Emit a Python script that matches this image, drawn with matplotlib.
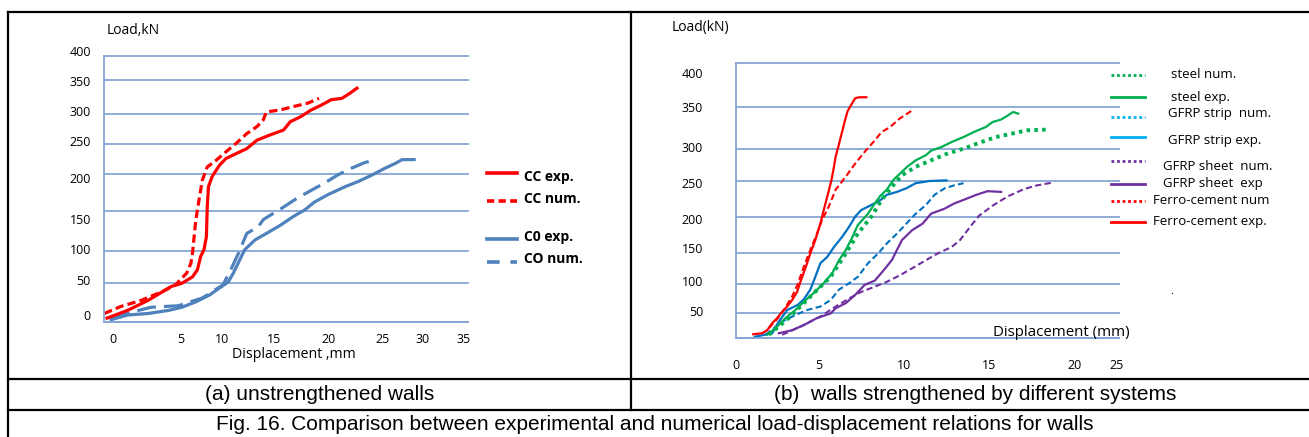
import numpy as np
import matplotlib
matplotlib.use("Agg")
import matplotlib.pyplot as plt
from matplotlib.lines import Line2D
from matplotlib.transforms import ScaledTranslation

# ---- (a) unstrengthened walls ----
a_x_ticks = [0, 5, 10, 15, 20, 25, 30, 35]
a_y_ticks = [0, 50, 100, 150, 200, 250, 300, 350, 400]

cc_exp_disp = [-0.4, 1.1, 2.6, 4.3, 5.1, 6.4, 7.0, 7.4, 7.8, 8.1, 8.2, 8.35, 8.8, 9.7, 10.4, 11.4,
               12.4, 13.4, 14.7, 15.9, 16.5, 17.4, 18.4, 19.3, 20.2, 21.2, 21.9, 22.6]
cc_exp_load = [5, 15, 28, 46, 50, 60, 71, 92, 102, 118, 155, 183, 197, 215, 226, 234,
               242, 256, 265, 273, 287, 295, 306, 313, 321, 323, 330, 338]
cc_num_disp = [-0.6, 0.6, 2.1, 3.6, 4.6, 5.7, 6.2, 6.4, 6.8, 7.2, 7.6, 8.2, 9.3, 10.4, 11.4, 12.4,
               13.4, 14.0, 14.3, 15.6, 16.8, 18.1, 19.1]
cc_num_load = [11, 20, 28, 39, 48, 66, 81, 97, 138, 165, 192, 212, 223, 237, 251, 267,
               279, 290, 303, 306, 311, 316, 323]
c0_exp_disp = [-0.1, 1.1, 2.6, 4.1, 5.1, 6.8, 8.5, 9.7, 10.6, 11.1, 11.7, 12.2, 13.2, 14.3, 15.6,
               16.8, 17.8, 18.7, 19.9, 21.5, 22.7, 24.0, 25.3, 26.6, 27.4, 28.9]
c0_exp_load = [3, 9, 11, 15, 19, 26, 35, 44, 52, 66, 86, 102, 114, 122, 132,
               143, 151, 162, 172, 183, 190, 199, 210, 218, 224, 224]
c0_num_disp = [-0.1, 1.9, 2.8, 4.8, 7.6, 10.1, 10.9, 11.6, 12.4, 13.5, 14.0, 15.0, 15.9, 17.1,
               18.4, 19.6, 20.8, 22.1, 23.3, 24.1]
c0_num_load = [5, 15, 19, 21, 31, 48, 73, 97, 122, 130, 139, 147, 155, 167,
               178, 188, 199, 210, 219, 223]

# ---- (b) strengthened walls ----
b_x_ticks = [0, 5, 10, 15, 20, 25]
b_y_ticks = [0, 50, 100, 150, 200, 250, 300, 350, 400]
b_y_labels = ["", "50", "100", "150", "200", "250", "300", "350", "400"]

ferro_exp_disp = [1.06, 1.6, 1.9, 2.2, 2.5, 2.8, 3.1, 3.4, 3.7, 3.9, 4.2, 4.5, 4.8, 5.1, 5.3, 5.5,
                  5.75, 5.9, 6.0, 6.2, 6.4, 6.55, 6.7, 6.9, 7.15, 7.4, 7.8]
ferro_exp_load = [8, 10, 16, 30, 40, 52, 61, 72, 86, 103, 125, 149, 168, 191, 210, 228,
                  251, 272, 288, 306, 322, 334, 345, 352, 360, 361, 361]
ferro_num_disp = [2.0, 2.5, 2.9, 3.4, 3.75, 4.1, 4.5, 4.9, 5.2, 5.6, 6.0, 6.6, 7.15, 7.7, 8.3,
                  8.7, 9.2, 9.75, 10.5]
ferro_num_load = [20, 38, 55, 78, 100, 127, 154, 177, 196, 215, 238, 257, 277, 295, 310,
                  320, 326, 336, 346]
steel_exp_disp = [1.9, 2.4, 3.0, 3.6, 4.1, 4.7, 5.3, 5.8, 6.2, 6.6, 7.0, 7.3, 7.9, 8.3, 8.6, 9.0,
                  9.4, 9.8, 10.2, 10.7, 11.3, 11.6, 12.2, 12.8, 13.5, 14.1, 14.8, 15.2, 15.7,
                  16.1, 16.4, 16.7]
steel_exp_load = [7, 20, 40, 55, 69, 84, 101, 117, 138, 154, 173, 189, 205, 219, 229, 238,
                  252, 262, 272, 282, 290, 297, 302, 308, 314, 320, 326, 332, 335,
                  340, 344, 342]
steel_num_disp = [2.0, 3.2, 4.5, 5.7, 6.6, 7.3, 8.1, 8.7, 9.3, 9.9, 10.7, 11.6, 12.6, 13.5,
                  14.4, 15.4, 16.3, 17.2, 18.5]
steel_num_load = [7, 40, 78, 111, 149, 177, 201, 224, 242, 259, 272, 282, 293, 300,
                  307, 314, 318, 322, 323]
strip_exp_disp = [1.15, 2.2, 2.6, 3.1, 3.75, 4.1, 4.5, 4.8, 5.1, 5.5, 5.9, 6.4, 6.8, 7.15, 7.5,
                  8.1, 8.65, 9.0, 9.6, 10.15, 10.7, 11.5, 12.5]
strip_exp_load = [3, 10, 33, 55, 64, 73, 90, 111, 133, 143, 158, 173, 187, 201, 210,
                  217, 224, 231, 235, 240, 247, 250, 251]
strip_num_disp = [1.8, 2.8, 3.6, 4.3, 5.1, 5.7, 6.2, 6.8, 7.3, 7.9, 8.5, 9.0, 9.6, 10.15, 10.7,
                  11.3, 11.8, 12.4, 12.95, 13.5]
strip_num_load = [7, 33, 46, 55, 61, 72, 90, 101, 111, 133, 149, 163, 177, 191, 205,
                  217, 231, 240, 244, 247]
sheet_exp_disp = [2.6, 3.4, 4.1, 4.9, 5.7, 6.0, 6.6, 7.15, 7.7, 8.3, 8.8, 9.3, 9.6, 9.9, 10.5,
                  11.1, 11.6, 12.4, 12.95, 13.5, 14.25, 14.9, 15.7]
sheet_exp_load = [10, 16, 26, 40, 49, 58, 67, 81, 98, 105, 121, 138, 154, 168, 182,
                  191, 205, 212, 219, 224, 231, 236, 235]
sheet_num_disp = [2.8, 3.9, 5.1, 6.0, 6.8, 7.5, 8.3, 9.0, 9.8, 10.5, 11.3, 12.0, 12.8, 13.3,
                  13.9, 14.4, 15.2, 16.1, 17.05, 17.8, 18.75]
sheet_num_load = [7, 23, 43, 61, 75, 86, 95, 103, 114, 125, 138, 149, 158, 168,
                  187, 202, 216, 229, 239, 244, 248]

# ---- layout (pixels of the 1309x437 picture) ----
W, H = 1309, 437
A_XTICK_PX = [112.5, 181, 222, 273.6, 329, 382.7, 423, 464]   # labels are typed unevenly
A_YGRID_PX = [322, 283.3, 251.3, 210.7, 174.3, 143.7, 114, 80, 55.7]
A_YLABEL_SHIFT = [-5, -2, -1, 10, 5, -1, -1, 3, -3]           # label drift from its gridline
B_XTICK_PX = [718.3, 805, 894, 983.3, 1072.7, 1116]
B_YGRID_PX = [338.3, 313, 283.7, 252.7, 217.3, 181, 148.7, 107, 62.7]
B_YLABEL_SHIFT = [0, 0, -1, -3.5, 3.5, 3, 0, 2, 12]
GRID_COLOR = "#86a6d6"
CHART_FONT = "Open Sans"
TICK_SIZE = 9


def piecewise(vals, pos):
    """uneven axis: values -> picture position, linear between anchors"""
    vals = np.asarray(vals, float)
    pos = np.asarray(pos, float)

    def interp(v, xp, fp):
        v = np.asarray(v, float)
        out = np.interp(v, xp, fp)
        lo_slope = (fp[1] - fp[0]) / (xp[1] - xp[0])
        hi_slope = (fp[-1] - fp[-2]) / (xp[-1] - xp[-2])
        out = np.where(v < xp[0], fp[0] + (v - xp[0]) * lo_slope, out)
        out = np.where(v > xp[-1], fp[-1] + (v - xp[-1]) * hi_slope, out)
        return out

    return (lambda v: interp(v, vals, pos)), (lambda p: interp(p, pos, vals))


def px(x, y):
    return x / W, 1 - y / H


def make_axes(fig, box, x_ticks, x_px, y_ticks, y_px):
    x0, y0, x1, y1 = box
    ax = fig.add_axes([x0 / W, 1 - y1 / H, (x1 - x0) / W, (y1 - y0) / H])
    xf, xi = piecewise(x_ticks, x_px)
    yf, yi = piecewise(y_ticks, [-p for p in y_px])
    ax.set_xscale("function", functions=(xf, xi))
    ax.set_yscale("function", functions=(yf, yi))
    ax.set_xlim(float(xi(x0)), float(xi(x1)))
    ax.set_ylim(float(yi(-y1)), float(yi(-y0)))
    for side in ["top", "right"]:
        ax.spines[side].set_visible(False)
    for side in ["left", "bottom"]:
        ax.spines[side].set_color(GRID_COLOR)
        ax.spines[side].set_linewidth(1.3)
    ax.set_facecolor("none")
    ax.set_xticks(x_ticks, labels=[str(v) for v in x_ticks])
    ax.set_yticks(y_ticks, labels=[])
    ax.yaxis.grid(True, color=GRID_COLOR, linewidth=1.3)
    for gl in ax.get_ygridlines():
        gl.set_clip_on(False)
    ax.set_axisbelow(True)
    ax.tick_params(length=0, labelsize=TICK_SIZE)
    return ax


def y_labels(ax, ticks, labels, shifts, pad):
    # y labels were typed by hand in the source, slightly off their gridlines
    base = ax.get_yaxis_text1_transform(pad)[0]
    for val, lab, dy in zip(ticks, labels, shifts):
        tr = base + ScaledTranslation(0, -dy / 100, fig.dpi_scale_trans)
        ax.text(0, val, lab, transform=tr, ha="right", va="center", fontsize=TICK_SIZE)


plt.rcParams["font.family"] = CHART_FONT
fig = plt.figure(figsize=(W / 100, H / 100), dpi=100)

# table frame (the right edge is cut off in the picture)
frame = [((8, 12), (W, 12)), ((8, 12), (8, 437)),
         ((631, 12), (631, 410)), ((8, 379), (W, 379)), ((8, 410), (W, 410))]
for (xa, ya), (xb, yb) in frame:
    fig.add_artist(Line2D([xa / W, xb / W], [1 - ya / H, 1 - yb / H],
                          transform=fig.transFigure, color="black", lw=1.6))

# ---------------- panel (a) ----------------
ax_a = make_axes(fig, (104, 55.7, 468, 322), a_x_ticks, A_XTICK_PX, a_y_ticks, A_YGRID_PX)
ax_a.tick_params(axis="x", pad=8)
y_labels(ax_a, a_y_ticks, [str(v) for v in a_y_ticks], A_YLABEL_SHIFT, 9.5)

ax_a.plot(c0_exp_disp, c0_exp_load, color="#4f81bd", lw=2.3)
ax_a.plot(c0_num_disp, c0_num_load, color="#4f81bd", lw=2.3, dashes=(6, 2.5))
ax_a.plot(cc_exp_disp, cc_exp_load, color="#ff0000", lw=2.3)
ax_a.plot(cc_num_disp, cc_num_load, color="#ff0000", lw=2.3, dashes=(2.6, 1.3))

fig.text(*px(107, 31), "Load,kN", fontsize=10, va="center")
fig.text(*px(294, 354), "Displacement ,mm", fontsize=10.2, ha="center", va="center")

# legend (a)
legend_a = [("CC exp.", "#ff0000", None, 173, 177),
            ("CC num.", "#ff0000", (2.0, 1.2), 201, 199),
            ("C0 exp.", "#4f81bd", None, 239, 237),
            ("CO num.", "#4f81bd", (3.5, 3.0), 262, 259)]
for label, color, dash, y_line, y_text in legend_a:
    ln = Line2D([487 / W, 517 / W], [1 - y_line / H] * 2, transform=fig.transFigure,
                color=color, lw=2.6)
    if dash:
        ln.set_dashes(dash)
    fig.add_artist(ln)
    fig.text(*px(524, y_text), label, fontsize=10, fontweight="bold", va="center")

# ---------------- panel (b) ----------------
ax_b = make_axes(fig, (735.7, 62.7, 1119, 338.3), b_x_ticks, B_XTICK_PX, b_y_ticks, B_YGRID_PX)
ax_b.tick_params(axis="x", pad=15)
y_labels(ax_b, b_y_ticks, b_y_labels, B_YLABEL_SHIFT, 23.5)

ax_b.plot(sheet_num_disp, sheet_num_load, color="#7030a0", lw=1.5, dashes=(3, 1.6))
ax_b.plot(sheet_exp_disp, sheet_exp_load, color="#7030a0", lw=1.6)
ax_b.plot(strip_num_disp, strip_num_load, color="#0070c0", lw=1.5, dashes=(3, 1.6))
ax_b.plot(strip_exp_disp, strip_exp_load, color="#0070c0", lw=1.6)
ax_b.plot(steel_exp_disp, steel_exp_load, color="#00b050", lw=1.6)
ax_b.plot(steel_num_disp, steel_num_load, color="#00b050", lw=2.8, dashes=(0.9, 1.1))
ax_b.plot(ferro_num_disp, ferro_num_load, color="#ff0000", lw=1.5, dashes=(3, 1.6))
ax_b.plot(ferro_exp_disp, ferro_exp_load, color="#ff0000", lw=1.6)

fig.text(*px(672, 27), "Load(kN)", fontsize=10, va="center")
fig.text(*px(993, 332), "Displacement (mm)", fontsize=10.8, va="center")
fig.text(*px(1170, 292), ".", fontsize=8, va="center")

# legend (b)
legend_b = [("steel num.", "#00b050", True, 75, 1171, 75),
            ("steel exp.", "#00b050", False, 97, 1171, 97),
            ("GFRP strip  num.", "#00b0f0", True, 117, 1168, 114),
            ("GFRP strip exp.", "#00b0f0", False, 137, 1168, 140),
            ("GFRP sheet  num.", "#7030a0", True, 161, 1163, 167),
            ("GFRP sheet  exp", "#7030a0", False, 184, 1163, 184),
            ("Ferro-cement num", "#ff0000", True, 201, 1153, 201),
            ("Ferro-cement exp.", "#ff0000", False, 222, 1153, 221)]
for label, color, dotted, y_line, x_text, y_text in legend_b:
    ln = Line2D([1111 / W, 1145 / W], [1 - y_line / H] * 2, transform=fig.transFigure,
                color=color, lw=2.0)
    if dotted:
        ln.set_dashes((1, 1))
    fig.add_artist(ln)
    fig.text(*px(x_text, y_text), label, fontsize=9.5, va="center")

# captions
cap = dict(fontsize=15, family="Liberation Sans", ha="center", va="center")
fig.text(*px(320, 395), "(a) unstrengthened walls", **cap)
fig.text(*px(975, 395), "(b)  walls strengthened by different systems", **cap)
fig.text(*px(655, 424), "Fig. 16. Comparison between experimental and numerical "
         "load-displacement relations for walls", **cap)

fig.savefig("out.png", dpi=100)
